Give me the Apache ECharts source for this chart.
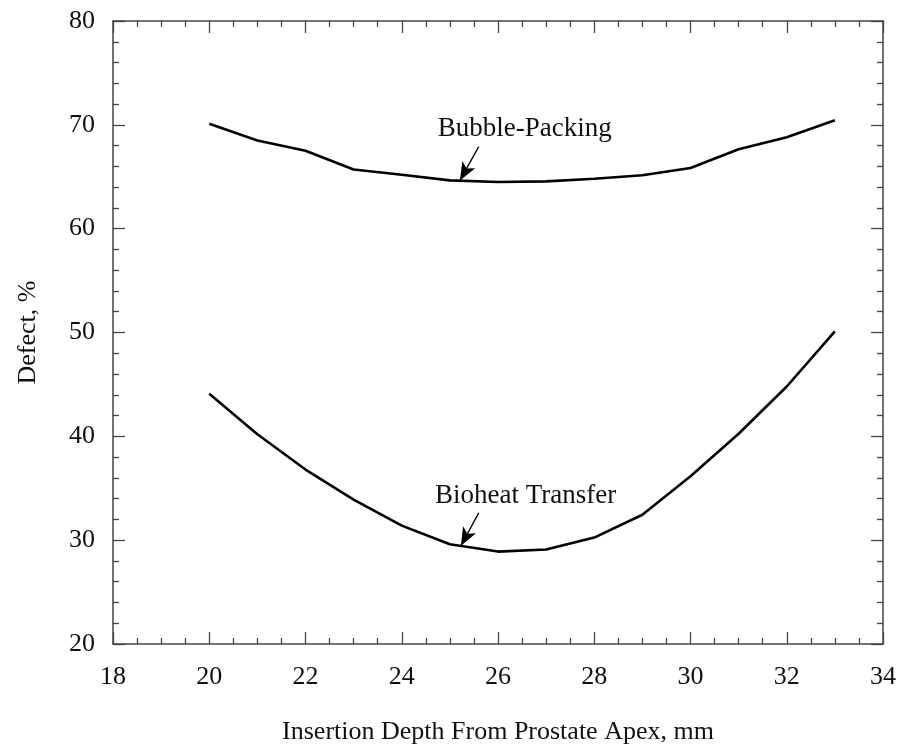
<!DOCTYPE html>
<html>
<head>
<meta charset="utf-8">
<script src="https://cdn.jsdelivr.net/npm/echarts@6/dist/echarts.min.js"></script>
<style>html,body{margin:0;padding:0;background:#fff}#c{width:899px;height:750px}</style>
</head>
<body>
<div id="c"></div>
<script>
const depth = [20, 21, 22, 23, 24, 25, 26, 27, 28, 29, 30, 31, 32, 33];
const bubblePacking = [70.1, 68.5, 67.5, 65.7, 65.2, 64.65, 64.5, 64.55, 64.8, 65.15, 65.85, 67.65, 68.8, 70.45];
const bioheatTransfer = [44.1, 40.2, 36.8, 33.9, 31.4, 29.6, 28.9, 29.1, 30.25, 32.45, 36.15, 40.25, 44.8, 50.1];
const xTicks = [18, 20, 22, 24, 26, 28, 30, 32, 34];
const yTicks = [20, 30, 40, 50, 60, 70, 80];
const labels = [
  { text: 'Bubble-Packing', at: [24.75, 69.6], tail: [25.6, 67.9], tip: [25.21, 64.65] },
  { text: 'Bioheat Transfer', at: [24.69, 34.28], tail: [25.6, 32.63], tip: [25.23, 29.47] }
];

const font = 'Liberation Serif, Times New Roman, serif';
const axisCol = '#444';
const chart = echarts.init(document.getElementById('c'));

function xAxisDef(pos, showLabel) {
  return {
    type: 'value', position: pos, min: xTicks[0], max: xTicks[xTicks.length - 1], interval: 2,
    axisLine: { show: true, lineStyle: { color: axisCol, width: 1.5 } },
    axisTick: { show: true, inside: true, length: 12, lineStyle: { color: axisCol, width: 1.3 } },
    minorTick: { show: true, splitNumber: 4, length: 6, lineStyle: { color: axisCol, width: 1.3 } },
    splitLine: { show: false },
    axisLabel: { show: showLabel, margin: 20, fontFamily: font, fontSize: 26, color: '#111' },
    name: showLabel ? 'Insertion Depth From Prostate Apex, mm' : '',
    nameLocation: 'middle', nameGap: 75,
    nameTextStyle: { fontFamily: font, fontSize: 26, color: '#111' }
  };
}
function yAxisDef(pos, showLabel) {
  return {
    type: 'value', position: pos, min: yTicks[0], max: yTicks[yTicks.length - 1], interval: 10,
    axisLine: { show: true, lineStyle: { color: axisCol, width: 1.5 } },
    axisTick: { show: true, inside: true, length: 12, lineStyle: { color: axisCol, width: 1.3 } },
    minorTick: { show: true, splitNumber: 5, length: 6, lineStyle: { color: axisCol, width: 1.3 } },
    splitLine: { show: false },
    axisLabel: { show: showLabel, margin: 18, fontFamily: font, fontSize: 26, color: '#111' },
    name: showLabel ? 'Defect, %' : '',
    nameLocation: 'middle', nameGap: 72,
    nameTextStyle: { fontFamily: font, fontSize: 26, color: '#111' }
  };
}

function seriesDef(name, vals, lab) {
  return {
    type: 'line', name: name,
    data: depth.map((d, i) => [d, vals[i]]),
    showSymbol: false, symbol: 'none',
    lineStyle: { color: '#000', width: 2.6 },
    silent: true, animation: false,
    markLine: {
      silent: true, animation: false,
      symbol: ['none', 'arrow'], symbolSize: [11, 18],
      lineStyle: { color: '#000', width: 1.3, type: 'solid' },
      label: { show: false },
      data: [[{ coord: lab.tail }, { coord: lab.tip }]]
    },
    markPoint: {
      silent: true, animation: false,
      symbol: 'circle', symbolSize: 0,
      data: [{
        coord: lab.at,
        label: {
          show: true, formatter: lab.text, position: [0, 0], align: 'left', verticalAlign: 'middle',
          fontFamily: font, fontSize: 27, color: '#111'
        }
      }]
    }
  };
}

chart.setOption({
  backgroundColor: '#fff',
  animation: false,
  grid: { left: 113, right: 16, top: 21, bottom: 102, containLabel: false },
  xAxis: [xAxisDef('bottom', true), xAxisDef('top', false)],
  yAxis: [yAxisDef('left', true), yAxisDef('right', false)],
  series: [
    seriesDef('Bubble-Packing', bubblePacking, labels[0]),
    seriesDef('Bioheat Transfer', bioheatTransfer, labels[1])
  ]
});
</script>
</body>
</html>
